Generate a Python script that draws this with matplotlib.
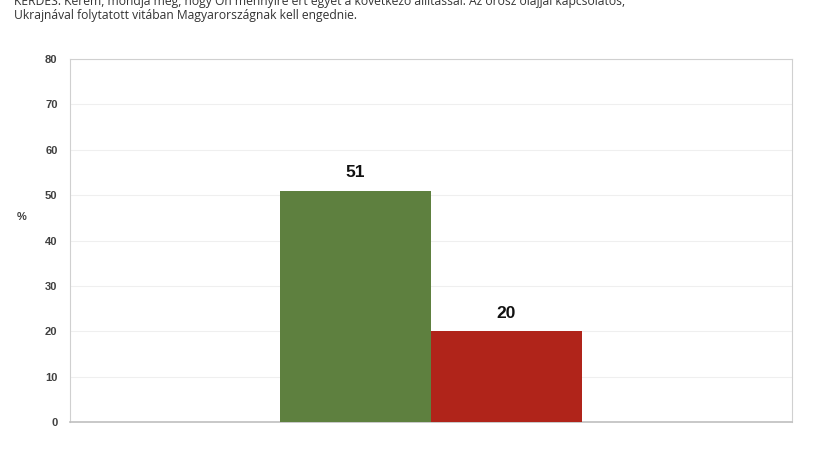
import matplotlib
matplotlib.use("Agg")
import matplotlib.pyplot as plt

categories = ["Egyetért", "Nem ért egyet"]
values = [51, 20]
colors = ["#5E803F", "#B0241A"]
yticks = [0, 10, 20, 30, 40, 50, 60, 70, 80]

title_lines = ("KÉRDÉS: Kérem, mondja meg, hogy Ön mennyire ért egyet a következő állítással: Az orosz olajjal kapcsolatos,\n"
               "Ukrajnával folytatott vitában Magyarországnak kell engednie.")

fig = plt.figure(figsize=(8.25, 4.5), dpi=100)
ax = fig.add_axes([70/825, 1-422/450, 722/825, 363/450])

pos = list(range(len(categories)))
ax.bar(pos, values, width=1.0, color=colors, zorder=3)
for p, v in zip(pos, values):
    ax.text(p, v + 2.3, str(v), ha="center", va="bottom", fontsize=12.5,
            fontweight="bold", family="Liberation Sans", color="#111111")

ax.set_xlim(-1.89, 2.89)
ax.set_ylim(0, 80)
ax.set_yticks(yticks)
ax.set_yticklabels([str(t) for t in yticks], fontsize=8, fontweight="bold",
                   family="Liberation Sans", color="#404040")
ax.set_xticks([])
ax.tick_params(axis="y", length=0, pad=9)
ax.grid(axis="y", color="#EFEFEF", linewidth=0.8, zorder=0)
for s in ax.spines.values():
    s.set_color("#D0D0D0")
    s.set_linewidth(0.8)
ax.spines["bottom"].set_color("#BFBFBF")
ax.spines["bottom"].set_linewidth(1.2)

fig.text(22/825, 1-217/450, "%", fontsize=8, family="Liberation Sans",
         fontweight="bold", color="#404040", ha="center", va="center")

fig.text(14/825, 1-22/450, title_lines, fontsize=8.7, family="Open Sans",
         color="#333333", ha="left", va="bottom", linespacing=1.15)

fig.savefig("out.png", dpi=100, facecolor="white")
